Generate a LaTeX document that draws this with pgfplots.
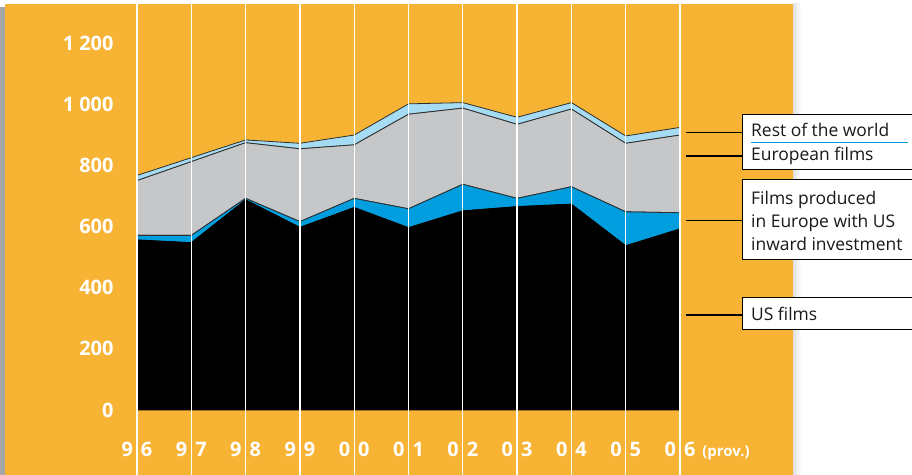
\documentclass[border=0pt]{standalone}
\usepackage{pgfplots}
\pgfplotsset{compat=1.18}
\usepackage{pgfplotstable}
\usepackage{fontspec}
\setmainfont{Open Sans}

\definecolor{panel}{RGB}{247,179,52}
\definecolor{restworld}{RGB}{166,220,243}
\definecolor{europe}{RGB}{198,199,200}
\definecolor{usinvest}{RGB}{0,158,222}
\definecolor{edge}{RGB}{45,45,45}

% Admissions by origin of film, stacked from the bottom:
% US films, films made in Europe with US inward investment,
% European films, rest of the world
\pgfplotstableread{
x  US   Inv  Eur  Rest
0  556  15   179  17
1  547  24   241  13
2  687  5    182  9
3  597  19   238  18
4  662  30   175  32
5  596  62   309  34
6  651  87   249  18
7  665  27   242  23
8  673  57   254  21
9  537  111  224  24
10 592  53   254  25
}\admissions

% two-digit year split around its grid line
\newcommand{\yr}[2]{\makebox[0pt][r]{#1\hspace{4bp}}\makebox[0pt][l]{\hspace{4bp}#2}}

\begin{document}
\begin{tikzpicture}[x=1bp,y=1bp]
\useasboundingbox (0,0) rectangle (912,475);
\clip (0,0) rectangle (912,475);
\fill[white] (0,0) rectangle (912,475);
\fill[black!35] (0,0) rectangle (6,468);
\shade[left color=black!12, right color=white] (793,0) rectangle (801,471);
\fill[panel] (5,0) rectangle (793,471);

\begin{axis}[
  at={(137bp,65bp)}, anchor=south west,
  scale only axis, width=543bp, height=367bp,
  xmin=0, xmax=10, ymin=0, ymax=1200,
  clip=false,
  axis line style={draw=none},
  major tick length=0pt,
  xtick={0,...,10},
  xticklabels={\yr96,\yr97,\yr98,\yr99,\yr00,\yr01,\yr02,\yr03,\yr04,\yr05,
    {\yr0{6\hspace{7bp}{\fontsize{15}{15}\selectfont(prov.)}}}},
  ytick={0,200,...,1200},
  yticklabels={0,200,400,600,800,1 000,1 200},
  ticklabel style={text=white, font=\bfseries\fontsize{20}{20}\selectfont},
  xticklabel style={yshift=-29bp},
  yticklabel style={xshift=-20bp},
  stack plots=y,
  every axis plot/.append style={line width=0.8bp, draw=edge},
]
% white year rules running through the panel
\pgfplotsinvokeforeach{0,...,10}{
  \draw[white, line width=1.3bp] (axis cs:#1,-240) -- (axis cs:#1,1328);
}
\addplot[fill=black, draw=black] table[x=x, y=US] {\admissions} \closedcycle;
\addplot[fill=usinvest] table[x=x, y=Inv] {\admissions} \closedcycle;
\addplot[fill=europe] table[x=x, y=Eur] {\admissions} \closedcycle;
\addplot[fill=restworld] table[x=x, y=Rest] {\admissions} \closedcycle;
\end{axis}

% callouts
\begin{scope}[line width=1.5bp]
  \draw (686,342.7) -- (743,342.7);
  \draw (686,319) -- (743,319);
  \draw (686,254.3) -- (743,254.3);
  \draw (686,160) -- (743,160);
\end{scope}
\begin{scope}[line width=1bp]
  \filldraw[fill=white, draw=black] (742.7,360.7) rectangle (920,305);
  \filldraw[fill=white, draw=black] (742.7,295) rectangle (920,215.7);
  \filldraw[fill=white, draw=black] (742.7,177.3) rectangle (920,145);
\end{scope}
\draw[usinvest, line width=0.8bp] (751,332.3) -- (908,332.3);
\begin{scope}[every node/.style={anchor=base west, inner sep=0pt, text=black!90,
    font=\fontsize{17.5}{17.5}\selectfont}]
  \node at (751,338.3) {Rest of the world};
  \node at (751,314) {European films};
  \node at (751,270.7) {Films produced};
  \node at (751,247.3) {in Europe with US};
  \node at (751,224) {inward investment};
  \node at (751,154) {US films};
\end{scope}
\end{tikzpicture}
\end{document}
